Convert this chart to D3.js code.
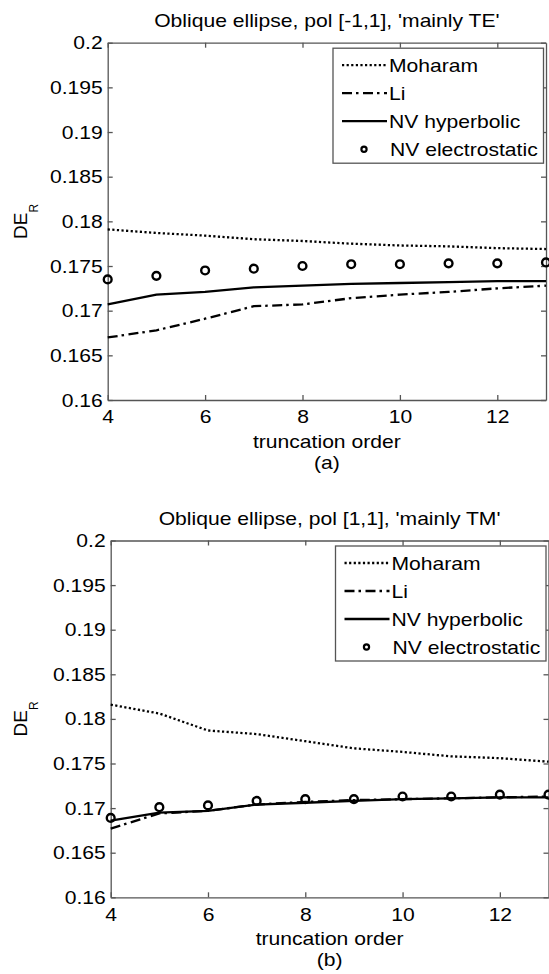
<!DOCTYPE html>
<html lang="en">
<head>
<title>Oblique ellipse DE_R</title>
<script src="https://cdnjs.cloudflare.com/ajax/libs/d3/7.8.5/d3.min.js"></script>
<style>
  body { margin: 0; background: #fff; }
  text { font-family: "Liberation Sans", Arial, Helvetica, sans-serif; fill: #000; }
  .axis path, .axis line { stroke: #555; stroke-width: 1.3; }
</style>
</head>
<body>
<svg id="chart" width="549" height="974"></svg>
<script>
// truncation orders (x)
const orders = [4, 5, 6, 7, 8, 9, 10, 11, 12, 13];
const xTicks = [4, 6, 8, 10, 12];
const yTicks = [0.16, 0.165, 0.17, 0.175, 0.18, 0.185, 0.19, 0.195, 0.2];
const seriesNames = ["Moharam", "Li", "NV hyperbolic", "NV electrostatic"];

// (a) pol [-1,1], mainly TE
const moharamTE = [0.1791, 0.1787, 0.1784, 0.1780, 0.1778, 0.1775, 0.1773, 0.1772, 0.1770, 0.1769];
const liTE      = [0.1670, 0.1678, 0.1691, 0.1705, 0.1707, 0.1714, 0.1718, 0.1721, 0.1725, 0.1728];
const hypTE     = [0.1707, 0.1718, 0.1721, 0.1726, 0.1728, 0.1730, 0.1731, 0.1732, 0.1733, 0.1733];
const elecTE    = [0.1735, 0.1739, 0.1745, 0.1747, 0.1750, 0.1752, 0.1752, 0.1753, 0.1753, 0.1754];

// (b) pol [1,1], mainly TM
const moharamTM = [0.1816, 0.1806, 0.1787, 0.1783, 0.1775, 0.1767, 0.1763, 0.1758, 0.1756, 0.1752];
const liTM      = [0.1677, 0.1694, 0.1697, 0.1704, 0.1707, 0.1709, 0.1710, 0.1711, 0.1712, 0.1713];
const hypTM     = [0.1686, 0.1695, 0.1697, 0.1704, 0.1706, 0.1708, 0.1710, 0.1711, 0.1712, 0.1712];
const elecTM    = [0.1689, 0.1701, 0.1703, 0.1708, 0.1710, 0.1710, 0.1713, 0.1713, 0.1715, 0.1715];

const svg = d3.select("#chart");
const fs = 19;

function drawPanel(p) {
  const x = d3.scaleLinear().domain([4, 13]).range([p.left, p.right]);
  const y = d3.scaleLinear().domain([0.16, 0.2]).range([p.bottom, p.top]);
  const g = svg.append("g");
  const cx = (p.left + p.right) / 2;

  // title
  g.append("text").attr("class", "wide").attr("x", cx).attr("y", p.top - 16)
    .attr("text-anchor", "middle").attr("font-size", fs).text(p.title);

  // axes, ticks inward on all four sides
  g.append("g").attr("class", "axis")
    .attr("transform", `translate(0,${p.bottom})`)
    .call(d3.axisBottom(x).tickValues(xTicks).tickSizeInner(-5).tickSizeOuter(0).tickPadding(10))
    .call(a => a.selectAll("text").attr("class", "wide").attr("font-size", fs).attr("font-family", null));
  g.append("g").attr("class", "axis")
    .attr("transform", `translate(0,${p.top})`)
    .call(d3.axisTop(x).tickValues(xTicks).tickSizeInner(-5).tickSizeOuter(0).tickFormat(""));
  g.append("g").attr("class", "axis")
    .attr("transform", `translate(${p.left},0)`)
    .call(d3.axisLeft(y).tickValues(yTicks).tickSizeInner(-5).tickSizeOuter(0).tickPadding(5)
      .tickFormat(d => +d.toFixed(3) + ""))
    .call(a => a.selectAll("text").attr("class", "wide").attr("font-size", fs).attr("font-family", null));
  g.append("g").attr("class", "axis")
    .attr("transform", `translate(${p.right},0)`)
    .call(d3.axisRight(y).tickValues(yTicks).tickSizeInner(-5).tickSizeOuter(0).tickFormat(""));
  g.selectAll(".axis text").attr("fill", "#000");

  // axis labels
  const yl = g.append("text")
    .attr("transform", `translate(26.7,${(p.top + p.bottom) / 2}) rotate(-90)`)
    .attr("text-anchor", "middle").attr("font-size", fs);
  yl.append("tspan").text("DE");
  yl.append("tspan").attr("font-size", 12).attr("dy", 11.5).text("R");
  g.append("text").attr("class", "wide").attr("x", cx).attr("y", p.bottom + 48)
    .attr("text-anchor", "middle").attr("font-size", fs).text("truncation order");
  g.append("text").attr("class", "wide").attr("x", cx).attr("y", p.bottom + 69)
    .attr("text-anchor", "middle").attr("font-size", fs).text(p.tag);

  const line = d3.line().x((d, i) => x(orders[i])).y(d => y(d));
  const styles = [
    { data: p.moharam, dash: "2.2,2.4" },
    { data: p.li, dash: "10,4,2.5,4.5" },
    { data: p.hyp, dash: null }
  ];
  styles.forEach(s => {
    g.append("path").datum(s.data)
      .attr("d", line).attr("fill", "none").attr("stroke", "#000")
      .attr("stroke-width", 2.3).attr("stroke-dasharray", s.dash);
  });
  g.selectAll(".pt").data(p.elec).enter().append("circle")
    .attr("cx", (d, i) => x(orders[i])).attr("cy", d => y(d))
    .attr("r", 3.9).attr("fill", "none").attr("stroke", "#000").attr("stroke-width", 2.4);

  // legend
  const lx = p.right - 213, ly = p.top + 5.5;
  const lg = g.append("g");
  lg.append("rect").attr("x", lx).attr("y", ly).attr("width", 210.5).attr("height", 115)
    .attr("fill", "#fff").attr("stroke", "#555").attr("stroke-width", 1.3);
  seriesNames.forEach((name, i) => {
    const ry = ly + 17 + i * 28;
    if (i < 3) {
      lg.append("line").attr("x1", lx + 9).attr("x2", lx + 54).attr("y1", ry).attr("y2", ry)
        .attr("stroke", "#000").attr("stroke-width", 2.3).attr("stroke-dasharray", styles[i].dash);
    } else {
      lg.append("circle").attr("cx", lx + 31).attr("cy", ry).attr("r", 2.6)
        .attr("fill", "none").attr("stroke", "#000").attr("stroke-width", 2.2);
    }
    lg.append("text").attr("class", "wide").attr("x", lx + (i < 3 ? 56 : 57)).attr("y", ry).attr("dy", "0.35em")
      .attr("font-size", fs).text(name);
  });
}

drawPanel({
  title: "Oblique ellipse, pol [-1,1], 'mainly TE'", tag: "(a)",
  left: 107.7, right: 546, top: 42.7, bottom: 400,
  moharam: moharamTE, li: liTE, hyp: hypTE, elec: elecTE
});
drawPanel({
  title: "Oblique ellipse, pol [1,1], 'mainly TM'", tag: "(b)",
  left: 110.7, right: 548.5, top: 540.5, bottom: 897.3,
  moharam: moharamTM, li: liTM, hyp: hypTM, elec: elecTM
});

// the scanned figure's horizontal text runs a little wider than Liberation Sans
svg.selectAll("text.wide").each(function () {
  const w = this.getComputedTextLength();
  if (w > 0) d3.select(this).attr("textLength", w * 1.11).attr("lengthAdjust", "spacingAndGlyphs");
});
</script>
</body>
</html>
